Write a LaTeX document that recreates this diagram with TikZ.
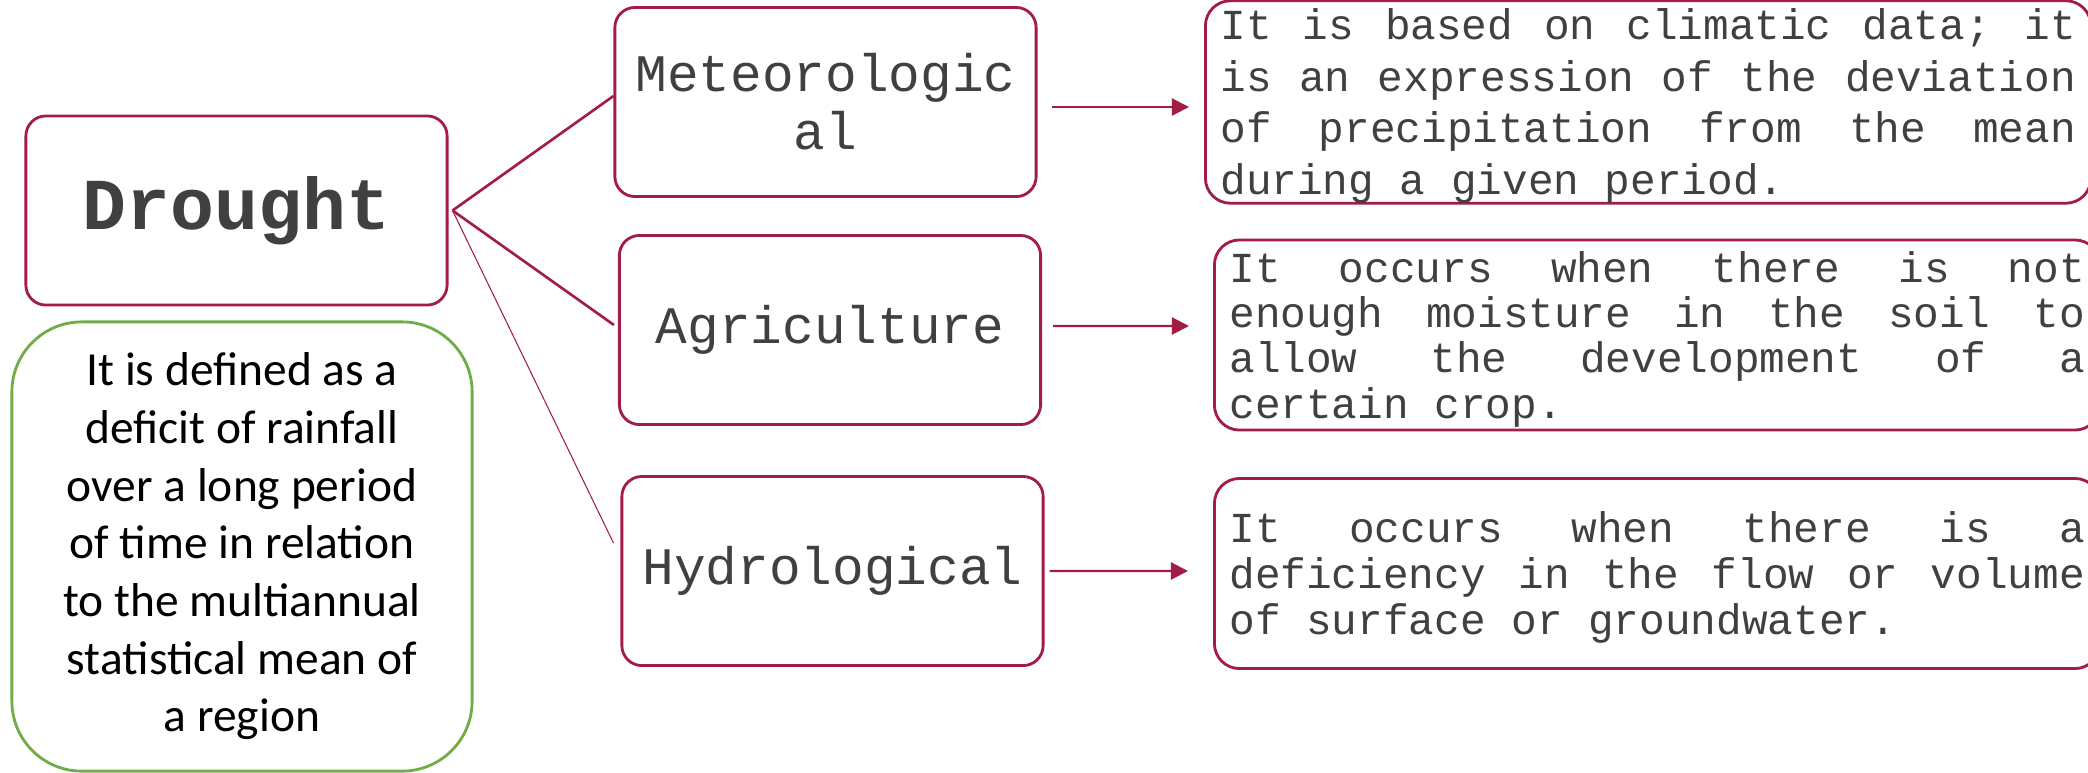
\documentclass[tikz,border=0pt]{standalone}
\usepackage{xcolor}
\definecolor{a21c45}{HTML}{A21C45}
\definecolor{g70ad47}{HTML}{70AD47}
\definecolor{d404040}{HTML}{404040}
\usepackage{fontspec}
\newfontfamily\courierfont{Liberation Mono}
\newfontfamily\calibrifont{Carlito}
\usepackage{tikz}
\usetikzlibrary{arrows.meta}
\tolerance=10000
\newcommand\descsetup[1]{\courierfont\fontsize{12.15pt}{#1}\selectfont
    \spaceskip=0.6em plus 1em minus 0.05em\relax}

\begin{document}
\begin{tikzpicture}[x=0.01cm, y=-0.01cm,
    typebox/.style={draw=a21c45, line width=0.8pt, rounded corners=0.2cm,
        minimum width=4.21cm, minimum height=1.89cm, inner sep=0pt,
        align=center, text=d404040},
    descbox/.style={draw=a21c45, line width=0.8pt, rounded corners=0.25cm,
        anchor=west, text width=8.55cm, inner xsep=0.15cm, inner ysep=0pt,
        minimum height=1.9cm, align=justify, text=d404040},
    link/.style={draw=a21c45, line width=0.75pt},
    linkarrow/.style={draw=a21c45, line width=0.6pt,
        -{Triangle[length=0.17cm, width=0.17cm]}}]

    \path[use as bounding box, fill=white] (0, 0) rectangle (2088, 772);

    \node[typebox, font=\courierfont\bfseries\fontsize{20.8pt}{25pt}\selectfont] (drought) at (236.5, 210.5) {Drought};

    \node[draw=g70ad47, line width=0.8pt, rounded corners=0.7cm,
        minimum width=4.6cm, minimum height=4.49cm, inner sep=0pt, align=center,
        font=\calibrifont\fontsize{13.5pt}{16.4pt}\selectfont] (defn) at (242, 546.5)
        {It is defined as a\\deficit of rainfall\\over a long period\\of time in relation\\to the multiannual\\statistical mean of\\a region};

    % types of drought
    \node[typebox, font=\courierfont\fontsize{15pt}{16.5pt}\selectfont] (met) at (825.5, 102) {Meteorologic\\al};
    \node[typebox, font=\courierfont\fontsize{15pt}{16.5pt}\selectfont] (agri) at (830, 330) {Agriculture};
    \node[typebox, font=\courierfont\fontsize{15pt}{16.5pt}\selectfont] (hyd) at (832.5, 571) {Hydrological};

    % descriptions
    \node[descbox, font=\descsetup{14.65pt}] (metdesc) at (1204, 102)
        {\rule{0pt}{0.39cm}It is based on climatic data; it\linebreak is an expression of the deviation\linebreak of precipitation from the mean\linebreak during a given period.};
    \node[descbox, font=\descsetup{12.9pt}] (agridesc) at (1213, 335)
        {\rule{0pt}{0.39cm}It occurs when there is not\linebreak enough moisture in the soil to\linebreak allow the development of a\linebreak certain crop.};
    \node[descbox, font=\descsetup{13.1pt}] (hyddesc) at (1213, 573.5)
        {\rule{0pt}{0.39cm}It occurs when there is a\linebreak deficiency in the flow or volume\linebreak of surface or groundwater.};

    \draw[link] ([xshift=0.04cm]drought.east) -- ([yshift=0.06cm]met.west);
    \draw[link] ([xshift=0.04cm]drought.east) -- ([xshift=-0.04cm, yshift=0.05cm]agri.west);
    \draw[link, line width=0.3pt] ([xshift=0.04cm]drought.east) -- ([xshift=-0.07cm, yshift=0.28cm]hyd.west);

    \draw[linkarrow] ([xshift=0.14cm, yshift=-0.05cm]met.east) -- ([xshift=-0.15cm, yshift=-0.05cm]metdesc.west);
    \draw[linkarrow] ([xshift=0.11cm, yshift=0.04cm]agri.east) -- ([xshift=-0.24cm, yshift=0.09cm]agridesc.west);
    \draw[linkarrow] ([xshift=0.05cm]hyd.east) -- ([xshift=-0.25cm, yshift=0.025cm]hyddesc.west);
\end{tikzpicture}
\end{document}
